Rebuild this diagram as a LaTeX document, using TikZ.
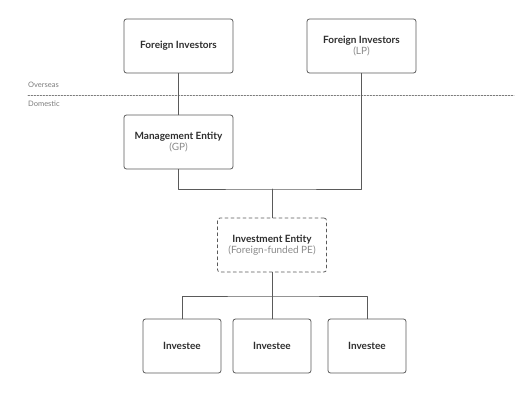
\documentclass[tikz,border=0pt]{standalone}
\usepackage{fontspec}
\setmainfont{Lato}
\usetikzlibrary{positioning}
\definecolor{edgegray}{HTML}{5A5A5A}
\definecolor{textdark}{HTML}{2E2E2E}
\definecolor{textlight}{HTML}{8A8A8A}
\newcommand\subtext[1]{{\mdseries\color{textlight}#1}}
\tikzset{
  entity/.style={draw=edgegray,line width=.8pt,rounded corners=2.5pt,fill=white,
    minimum width=109pt,minimum height=54pt,align=center,text=textdark,
    font=\fontsize{10}{12}\selectfont\bfseries},
  investee/.style={entity,minimum width=78pt},
  link/.style={draw=edgegray,line width=.8pt},
  region/.style={font=\fontsize{7.5}{9}\selectfont,text=textlight!90!black,anchor=west,inner sep=0pt}
}
\begin{document}
\begin{tikzpicture}[x=1pt,y=-1pt,line join=round,line cap=round]
				\useasboundingbox (0,0) rectangle (530,400);
				% overseas / domestic border
				\draw[edgegray!80,line width=.6pt,dash pattern=on 1.6pt off 1.4pt] (28,95)--(514,95);
				\node[region] (overseas) at (28,85) {Overseas};
				\node[region] (domestic) at (28,104) {Domestic};
				\node[entity] (fiA) at (178.5,46) {Foreign Investors};
				\node[entity] (fiB) at (361.5,46) {Foreign Investors\\[-1pt]\subtext{(LP)}};
				\node[entity] (mgmt) at (178.5,142) {Management Entity\\[-1pt]\subtext{(GP)}};
				\node[entity,dashed] (inv) at (272,245) {Investment Entity\\[-1pt]\subtext{(Foreign-funded PE)}};
				\foreach \i/\x in {1/182,2/272,3/367}{
					\node[investee] (ie\i) at (\x,346) {Investee};
				}
				\coordinate (join) at (inv.north |- 0,189);
				\coordinate (split) at (inv.south |- 0,296);
				\draw[link] (fiA)--(mgmt);
				\draw[link] (mgmt.south) |- (join) -| (fiB.south);
				\draw[link] (join)--(inv.north);
				\draw[link] (inv.south)--(ie2.north);
				\draw[link] (ie1.north) |- (split) -| (ie3.north);
			\end{tikzpicture}
\end{document}
